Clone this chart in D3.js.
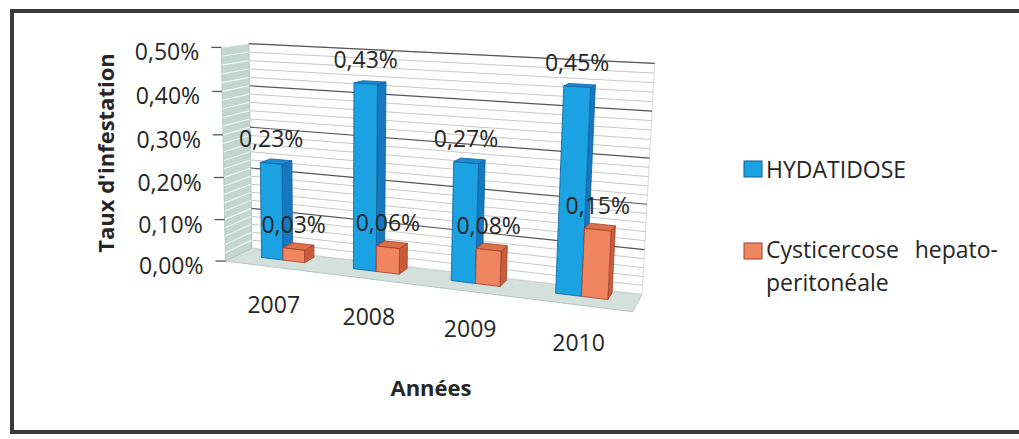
<!DOCTYPE html>
<html>
<head>
<meta charset="utf-8">
<script src="https://cdn.jsdelivr.net/npm/d3@7"></script>
<style>
  html, body { margin: 0; padding: 0; background: #ffffff; }
  svg { display: block; }
  text { font-family: "Open Sans", "Noto Sans", sans-serif; fill: #262626; }
</style>
</head>
<body>
<svg id="chart" width="1019" height="439"></svg>
<script>
// Taux d'infestation par année
const categories = ["2007", "2008", "2009", "2010"];
const hydatidose = [0.23, 0.43, 0.27, 0.45];
const cysticercose = [0.03, 0.06, 0.08, 0.15];
const seriesNames = ["HYDATIDOSE", "Cysticercose hepato-peritonéale"];
const yTicks = [0, 0.1, 0.2, 0.3, 0.4, 0.5];
const yMinorStep = 0.02;

// 3-D view: projection matrix taking world (X along categories 0..4,
// Y along values 0..1, Z along depth 0 = back wall .. 1 = front) to pixels
const camera = [
  [78.6053, -11.8048, -36.2982, 251.81],
  [2.89631, -205.859, 1.50123, 248.014],
  [-0.0295202, -0.0350605, -0.0442202, 1]
];

function project([X, Y, Z]) {
  const w = camera[2][0]*X + camera[2][1]*Y + camera[2][2]*Z + camera[2][3];
  return [
    (camera[0][0]*X + camera[0][1]*Y + camera[0][2]*Z + camera[0][3]) / w,
    (camera[1][0]*X + camera[1][1]*Y + camera[1][2]*Z + camera[1][3]) / w
  ];
}

const svg = d3.select("#chart");
const locale = d3.formatLocale({decimal: ",", thousands: " ", grouping: [3], currency: ["", " €"]});
const fmt = v => locale.format(".2f")(v) + "%";

// world scales
const xWorld = d3.scaleBand().domain(categories).range([0, 4]);
const xInner = d3.scaleBand().domain(seriesNames).range([0, 1]).paddingOuter(1.1).paddingInner(0);
const yWorld = d3.scaleLinear().domain([0, 0.5]).range([0, 1]);
const zBack = 0.12, zFront = 0.52;
const X0 = 0, X1 = 4;

const poly = pts => "M" + pts.map(p => project(p).map(c => c.toFixed(2)).join(",")).join("L") + "Z";
const seg = (a, b) => { const p = project(a), q = project(b); return `M${p[0]},${p[1]}L${q[0]},${q[1]}`; };

// outer frame
svg.append("rect").attr("x", 12).attr("y", 11).attr("width", 1030).attr("height", 421)
  .attr("fill", "none").attr("stroke", "#3a3a3a").attr("stroke-width", 4);

const plot = svg.append("g");

// floor
plot.append("path").attr("d", poly([[X0,0,0],[X1,0,0],[X1,0,1],[X0,0,1]]))
  .attr("fill", "#d3e0dc").attr("stroke", "#b5c7c1").attr("stroke-width", 1);
// back wall
plot.append("path").attr("d", poly([[X0,0,0],[X1,0,0],[X1,1,0],[X0,1,0]]))
  .attr("fill", "#ffffff").attr("stroke", "#d0d0d0").attr("stroke-width", 0.8);
// side wall
plot.append("path").attr("d", poly([[X0,0,0],[X0,0,1],[X0,1,1],[X0,1,0]]))
  .attr("fill", "#c3d6cf").attr("stroke", "#a9bfb8").attr("stroke-width", 0.8);

// gridlines on back and side walls
const minor = d3.range(0, 0.5 + 1e-9, yMinorStep).filter(v => Math.abs(v*10 - Math.round(v*10)) > 1e-6);
plot.selectAll(".minor-back").data(minor).join("path")
  .attr("d", v => seg([X0, yWorld(v), 0], [X1, yWorld(v), 0]))
  .attr("stroke", "#c8c8c8").attr("stroke-width", 1);
plot.selectAll(".minor-side").data(minor).join("path")
  .attr("d", v => seg([X0, yWorld(v), 1], [X0, yWorld(v), 0]))
  .attr("stroke", "#eef4f2").attr("stroke-width", 1.2);
plot.selectAll(".major-back").data(yTicks.slice(1)).join("path")
  .attr("d", v => seg([X0, yWorld(v), 0], [X1, yWorld(v), 0]))
  .attr("stroke", "#555555").attr("stroke-width", 1.2);
plot.selectAll(".major-side").data(yTicks.slice(1)).join("path")
  .attr("d", v => seg([X0, yWorld(v), 1], [X0, yWorld(v), 0]))
  .attr("stroke", "#f4f8f7").attr("stroke-width", 1.3);

// value axis ticks and labels
const axis = svg.append("g");
yTicks.forEach(v => {
  const [px, py] = project([X0, yWorld(v), 1]);
  axis.append("line").attr("x1", px).attr("x2", px - 10).attr("y1", py).attr("y2", py)
    .attr("stroke", "#555").attr("stroke-width", 1.3);
  axis.append("text").attr("x", px - 22).attr("y", py + 13)
    .attr("text-anchor", "end").attr("font-size", 23).text(fmt(v));
});

// bars
const series = [
  {name: seriesNames[0], values: hydatidose, front: "#1ba2e3", side: "#1679c0", top: "#1a8dd6", edge: "#0e5e9a"},
  {name: seriesNames[1], values: cysticercose, front: "#ef8660", side: "#c95d3b", top: "#dc7049", edge: "#a2402a"}
];
const bars = [];
categories.forEach((c, i) => series.forEach(s => bars.push({cat: c, s, v: s.values[i]})));
const barG = svg.append("g");
bars.forEach(d => {
  const x0 = xWorld(d.cat) + xInner(d.s.name), x1 = x0 + xInner.bandwidth();
  const y1 = yWorld(d.v);
  const g = barG.append("g").attr("stroke", d.s.edge).attr("stroke-width", 0.8).attr("stroke-linejoin", "round");
  g.append("path").attr("d", poly([[x1,0,zFront],[x1,0,zBack],[x1,y1,zBack],[x1,y1,zFront]])).attr("fill", d.s.side);
  g.append("path").attr("d", poly([[x0,y1,zFront],[x1,y1,zFront],[x1,y1,zBack],[x0,y1,zBack]])).attr("fill", d.s.top);
  g.append("path").attr("d", poly([[x0,0,zFront],[x1,0,zFront],[x1,y1,zFront],[x0,y1,zFront]])).attr("fill", d.s.front);
});
// data labels
bars.forEach(d => {
  const xc = xWorld(d.cat) + xInner(d.s.name) + xInner.bandwidth() / 2;
  const [px, py] = project([xc, yWorld(d.v), zFront]);
  svg.append("text").attr("x", px).attr("y", py - 16).attr("text-anchor", "middle")
    .attr("font-size", 23).text(fmt(d.v));
});

// category labels
categories.forEach(c => {
  const [px, py] = project([xWorld(c) + xWorld.bandwidth() / 2, 0, 1]);
  svg.append("text").attr("x", px + 3).attr("y", py + 46).attr("text-anchor", "middle")
    .attr("font-size", 23).text(c);
});

// axis titles
svg.append("text").attr("transform", "translate(114,153) rotate(-90)")
  .attr("text-anchor", "middle").attr("font-size", 22).attr("font-weight", 700).text("Taux d'infestation");
svg.append("text").attr("x", 431).attr("y", 396).attr("text-anchor", "middle")
  .attr("font-size", 22).attr("font-weight", 700).text("Années");

// legend
const leg = svg.append("g");
leg.append("rect").attr("x", 744).attr("y", 161).attr("width", 18).attr("height", 16)
  .attr("fill", series[0].front).attr("stroke", series[0].edge).attr("stroke-width", 1);
leg.append("text").attr("x", 766).attr("y", 178).attr("font-size", 23).text(seriesNames[0]);
leg.append("rect").attr("x", 744).attr("y", 243).attr("width", 18).attr("height", 16)
  .attr("fill", series[1].front).attr("stroke", series[1].edge).attr("stroke-width", 1);
const line1 = leg.append("text").attr("x", 766).attr("y", 258).attr("font-size", 23).text("Cysticercose hepato-");
const natural = line1.node().getComputedTextLength();
line1.attr("word-spacing", 232 - natural);
leg.append("text").attr("x", 766).attr("y", 291).attr("font-size", 23).text("peritonéale");
</script>
</body>
</html>
